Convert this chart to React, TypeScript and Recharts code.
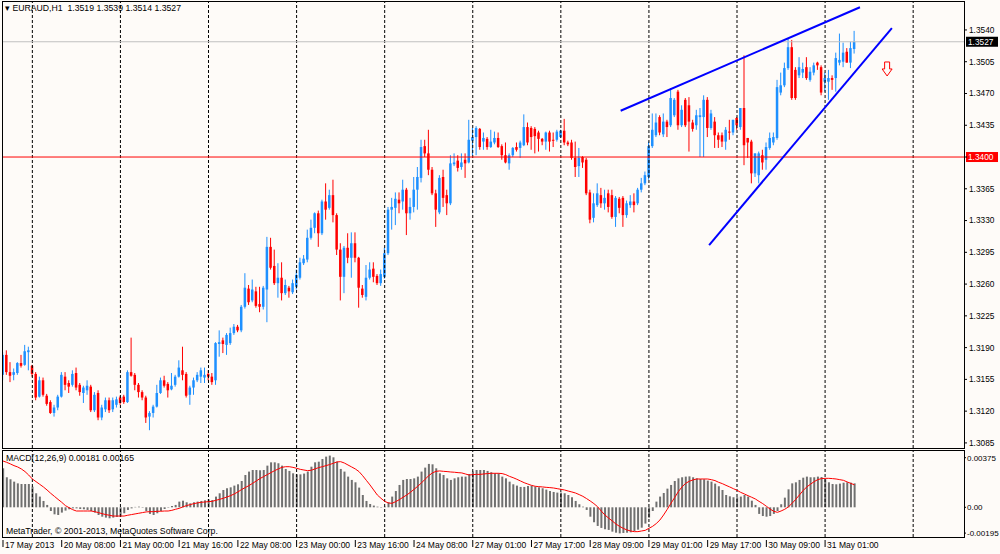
import {
  ComposedChart,
  Bar,
  Line,
  XAxis,
  YAxis,
  ReferenceLine,
  ReferenceDot,
} from "recharts";

// EURAUD H1, one entry per hourly bar (bar 0 = 17 May 2013)
const OPEN = [
  1.3160, 1.3182, 1.3163, 1.3160, 1.3162, 1.3173, 1.3171, 1.3185, 1.3170, 1.3161,
  1.3136, 1.3154, 1.3137, 1.3130, 1.3118, 1.3124, 1.3136, 1.3158, 1.3151, 1.3149,
  1.3162, 1.3149, 1.3140, 1.3143, 1.3147, 1.3121, 1.3140, 1.3113, 1.3122, 1.3132,
  1.3122, 1.3127, 1.3135, 1.3136, 1.3130, 1.3163, 1.3160, 1.3149, 1.3141, 1.3135,
  1.3114, 1.3118, 1.3125, 1.3140, 1.3154, 1.3150, 1.3144, 1.3149, 1.3158, 1.3165,
  1.3161, 1.3138, 1.3146, 1.3154, 1.3158, 1.3157, 1.3161, 1.3158, 1.3154, 1.3194,
  1.3198, 1.3193, 1.3195, 1.3206, 1.3213, 1.3209, 1.3235, 1.3255, 1.3242, 1.3252,
  1.3238, 1.3235, 1.3254, 1.3301, 1.3280, 1.3261, 1.3267, 1.3250, 1.3256, 1.3251,
  1.3257, 1.3267, 1.3283, 1.3287, 1.3311, 1.3322, 1.3338, 1.3316, 1.3351, 1.3344,
  1.3358, 1.3336, 1.3298, 1.3268, 1.3300, 1.3289, 1.3305, 1.3289, 1.3255, 1.3246,
  1.3267, 1.3277, 1.3269, 1.3261, 1.3268, 1.3294, 1.3342, 1.3344, 1.3353, 1.3351,
  1.3364, 1.3338, 1.3345, 1.3364, 1.3377, 1.3412, 1.3404, 1.3386, 1.3360, 1.3339,
  1.3378, 1.3358, 1.3349, 1.3392, 1.3396, 1.3389, 1.3397, 1.3394, 1.3418, 1.3422,
  1.3431, 1.3417, 1.3420, 1.3411, 1.3416, 1.3421, 1.3412, 1.3402, 1.3393, 1.3402,
  1.3411, 1.3410, 1.3413, 1.3433, 1.3432, 1.3431, 1.3427, 1.3420, 1.3417, 1.3427,
  1.3419, 1.3419, 1.3422, 1.3429, 1.3416, 1.3416, 1.3399, 1.3390, 1.3400, 1.3397,
  1.3361, 1.3333, 1.3347, 1.3358, 1.3349, 1.3360, 1.3358, 1.3334, 1.3354, 1.3355,
  1.3336, 1.3347, 1.3351, 1.3349, 1.3364, 1.3371, 1.3378, 1.3412, 1.3424, 1.3444,
  1.3425, 1.3439, 1.3435, 1.3446, 1.3472, 1.3435, 1.3463, 1.3457, 1.3438, 1.3435,
  1.3444, 1.3444, 1.3463, 1.3432, 1.3439, 1.3424, 1.3424, 1.3417, 1.3428, 1.3427,
  1.3443, 1.3433, 1.3454, 1.3421, 1.3417, 1.3382, 1.3380, 1.3402, 1.3397, 1.3410,
  1.3416, 1.3421, 1.3471, 1.3479, 1.3498, 1.3521, 1.3496, 1.3490, 1.3493, 1.3499,
  1.3485, 1.3493, 1.3504, 1.3499, 1.3483, 1.3483, 1.3487, 1.3487, 1.3504, 1.3505,
  1.3516, 1.3504, 1.3519,
];

const HIGH = [
  1.3185, 1.3187, 1.3174, 1.3167, 1.3174, 1.3182, 1.3193, 1.3191, 1.3171, 1.3163,
  1.3158, 1.3157, 1.3139, 1.3132, 1.3127, 1.3138, 1.3163, 1.3163, 1.3154, 1.3165,
  1.3168, 1.3151, 1.3148, 1.3154, 1.3149, 1.3141, 1.3143, 1.3127, 1.3135, 1.3135,
  1.3135, 1.3136, 1.3137, 1.3138, 1.3165, 1.3201, 1.3162, 1.3151, 1.3143, 1.3137,
  1.3120, 1.3127, 1.3149, 1.3157, 1.3159, 1.3152, 1.3162, 1.3160, 1.3176, 1.3191,
  1.3163, 1.3148, 1.3157, 1.3163, 1.3168, 1.3168, 1.3165, 1.3162, 1.3196, 1.3209,
  1.3201, 1.3206, 1.3212, 1.3216, 1.3215, 1.3237, 1.3272, 1.3259, 1.3265, 1.3257,
  1.3257, 1.3258, 1.3312, 1.3311, 1.3298, 1.3283, 1.3284, 1.3265, 1.3258, 1.3265,
  1.3276, 1.3289, 1.3292, 1.3320, 1.3331, 1.3339, 1.3341, 1.3353, 1.3371, 1.3364,
  1.3375, 1.3338, 1.3305, 1.3302, 1.3316, 1.3317, 1.3317, 1.3290, 1.3259, 1.3281,
  1.3284, 1.3284, 1.3271, 1.3276, 1.3300, 1.3345, 1.3355, 1.3361, 1.3361, 1.3375,
  1.3366, 1.3355, 1.3378, 1.3389, 1.3419, 1.3419, 1.3430, 1.3389, 1.3364, 1.3380,
  1.3386, 1.3364, 1.3402, 1.3404, 1.3402, 1.3404, 1.3404, 1.3441, 1.3432, 1.3434,
  1.3432, 1.3427, 1.3422, 1.3430, 1.3428, 1.3427, 1.3414, 1.3416, 1.3404, 1.3411,
  1.3416, 1.3418, 1.3447, 1.3438, 1.3434, 1.3433, 1.3429, 1.3421, 1.3428, 1.3429,
  1.3427, 1.3430, 1.3430, 1.3442, 1.3418, 1.3419, 1.3417, 1.3410, 1.3401, 1.3399,
  1.3364, 1.3360, 1.3371, 1.3366, 1.3364, 1.3364, 1.3364, 1.3357, 1.3356, 1.3357,
  1.3352, 1.3358, 1.3360, 1.3366, 1.3377, 1.3384, 1.3417, 1.3448, 1.3448, 1.3446,
  1.3448, 1.3441, 1.3476, 1.3465, 1.3474, 1.3457, 1.3465, 1.3466, 1.3441, 1.3452,
  1.3454, 1.3468, 1.3466, 1.3452, 1.3444, 1.3427, 1.3427, 1.3433, 1.3441, 1.3441,
  1.3444, 1.3454, 1.3512, 1.3421, 1.3419, 1.3404, 1.3406, 1.3408, 1.3416, 1.3427,
  1.3427, 1.3485, 1.3493, 1.3504, 1.3531, 1.3529, 1.3499, 1.3510, 1.3504, 1.3510,
  1.3499, 1.3504, 1.3505, 1.3501, 1.3493, 1.3496, 1.3490, 1.3515, 1.3536, 1.3526,
  1.3520, 1.3527, 1.3539,
];

const LOW = [
  1.3154, 1.3160, 1.3152, 1.3154, 1.3160, 1.3168, 1.3170, 1.3165, 1.3158, 1.3132,
  1.3135, 1.3136, 1.3126, 1.3117, 1.3114, 1.3121, 1.3135, 1.3143, 1.3140, 1.3147,
  1.3143, 1.3137, 1.3129, 1.3138, 1.3119, 1.3119, 1.3110, 1.3110, 1.3119, 1.3118,
  1.3119, 1.3124, 1.3127, 1.3128, 1.3129, 1.3158, 1.3143, 1.3135, 1.3132, 1.3107,
  1.3099, 1.3113, 1.3124, 1.3139, 1.3146, 1.3135, 1.3143, 1.3147, 1.3157, 1.3154,
  1.3135, 1.3127, 1.3138, 1.3152, 1.3151, 1.3151, 1.3154, 1.3149, 1.3149, 1.3180,
  1.3184, 1.3182, 1.3193, 1.3204, 1.3207, 1.3207, 1.3233, 1.3237, 1.3240, 1.3234,
  1.3229, 1.3232, 1.3218, 1.3276, 1.3259, 1.3245, 1.3242, 1.3248, 1.3245, 1.3249,
  1.3254, 1.3265, 1.3281, 1.3284, 1.3309, 1.3316, 1.3301, 1.3314, 1.3331, 1.3342,
  1.3328, 1.3292, 1.3242, 1.3250, 1.3283, 1.3267, 1.3284, 1.3234, 1.3245, 1.3242,
  1.3265, 1.3262, 1.3259, 1.3258, 1.3266, 1.3292, 1.3320, 1.3325, 1.3338, 1.3342,
  1.3314, 1.3331, 1.3339, 1.3342, 1.3372, 1.3400, 1.3380, 1.3358, 1.3323, 1.3337,
  1.3345, 1.3336, 1.3347, 1.3390, 1.3384, 1.3386, 1.3377, 1.3393, 1.3402, 1.3402,
  1.3408, 1.3408, 1.3408, 1.3410, 1.3414, 1.3410, 1.3397, 1.3393, 1.3386, 1.3400,
  1.3406, 1.3399, 1.3412, 1.3413, 1.3408, 1.3404, 1.3406, 1.3413, 1.3408, 1.3406,
  1.3411, 1.3417, 1.3421, 1.3413, 1.3412, 1.3397, 1.3378, 1.3378, 1.3388, 1.3358,
  1.3327, 1.3328, 1.3345, 1.3344, 1.3342, 1.3339, 1.3332, 1.3323, 1.3338, 1.3323,
  1.3333, 1.3344, 1.3339, 1.3347, 1.3361, 1.3369, 1.3375, 1.3410, 1.3422, 1.3424,
  1.3422, 1.3422, 1.3433, 1.3444, 1.3430, 1.3433, 1.3433, 1.3406, 1.3428, 1.3430,
  1.3400, 1.3400, 1.3422, 1.3430, 1.3410, 1.3410, 1.3411, 1.3408, 1.3419, 1.3424,
  1.3430, 1.3430, 1.3391, 1.3399, 1.3371, 1.3378, 1.3371, 1.3386, 1.3386, 1.3408,
  1.3413, 1.3419, 1.3468, 1.3477, 1.3496, 1.3463, 1.3463, 1.3487, 1.3487, 1.3485,
  1.3483, 1.3490, 1.3496, 1.3468, 1.3472, 1.3463, 1.3474, 1.3472, 1.3501, 1.3499,
  1.3504, 1.3498, 1.3514,
];

const CLOSE = [
  1.3182, 1.3163, 1.3159, 1.3163, 1.3173, 1.3170, 1.3186, 1.3187, 1.3161, 1.3135,
  1.3154, 1.3138, 1.3128, 1.3118, 1.3124, 1.3136, 1.3160, 1.3149, 1.3147, 1.3161,
  1.3146, 1.3141, 1.3146, 1.3148, 1.3121, 1.3138, 1.3113, 1.3124, 1.3132, 1.3121,
  1.3132, 1.3133, 1.3129, 1.3130, 1.3163, 1.3159, 1.3149, 1.3141, 1.3135, 1.3113,
  1.3118, 1.3125, 1.3140, 1.3154, 1.3148, 1.3143, 1.3148, 1.3158, 1.3168, 1.3160,
  1.3137, 1.3146, 1.3154, 1.3160, 1.3165, 1.3160, 1.3158, 1.3152, 1.3195, 1.3196,
  1.3194, 1.3204, 1.3206, 1.3213, 1.3209, 1.3235, 1.3256, 1.3240, 1.3254, 1.3236,
  1.3235, 1.3256, 1.3301, 1.3278, 1.3261, 1.3267, 1.3250, 1.3259, 1.3252, 1.3261,
  1.3270, 1.3284, 1.3288, 1.3311, 1.3322, 1.3338, 1.3316, 1.3351, 1.3342, 1.3358,
  1.3336, 1.3298, 1.3268, 1.3300, 1.3289, 1.3305, 1.3289, 1.3256, 1.3248, 1.3267,
  1.3276, 1.3268, 1.3261, 1.3271, 1.3294, 1.3342, 1.3345, 1.3354, 1.3349, 1.3364,
  1.3338, 1.3345, 1.3364, 1.3378, 1.3411, 1.3404, 1.3386, 1.3360, 1.3342, 1.3377,
  1.3355, 1.3349, 1.3393, 1.3394, 1.3388, 1.3394, 1.3393, 1.3419, 1.3422, 1.3432,
  1.3411, 1.3421, 1.3411, 1.3417, 1.3421, 1.3411, 1.3402, 1.3394, 1.3402, 1.3410,
  1.3408, 1.3416, 1.3433, 1.3416, 1.3422, 1.3423, 1.3420, 1.3417, 1.3427, 1.3417,
  1.3418, 1.3428, 1.3429, 1.3416, 1.3414, 1.3399, 1.3389, 1.3399, 1.3394, 1.3360,
  1.3331, 1.3349, 1.3360, 1.3349, 1.3355, 1.3345, 1.3334, 1.3355, 1.3344, 1.3336,
  1.3349, 1.3351, 1.3347, 1.3364, 1.3371, 1.3380, 1.3412, 1.3430, 1.3438, 1.3427,
  1.3439, 1.3433, 1.3465, 1.3463, 1.3435, 1.3452, 1.3435, 1.3439, 1.3431, 1.3446,
  1.3446, 1.3463, 1.3432, 1.3448, 1.3424, 1.3419, 1.3417, 1.3430, 1.3427, 1.3441,
  1.3435, 1.3454, 1.3413, 1.3416, 1.3382, 1.3404, 1.3404, 1.3394, 1.3411, 1.3421,
  1.3422, 1.3477, 1.3479, 1.3498, 1.3521, 1.3465, 1.3465, 1.3499, 1.3497, 1.3487,
  1.3494, 1.3501, 1.3501, 1.3471, 1.3487, 1.3487, 1.3485, 1.3509, 1.3507, 1.3515,
  1.3504, 1.3520, 1.3527,
];

// MACD(12,26,9): histogram (main) and signal line
const MACD_MAIN = [
  0.00295, 0.00227, 0.00212, 0.00194, 0.00181, 0.00176, 0.00176, 0.00176, 0.00156, 0.00106,
  0.00081, 0.00048, 0.00018, -0.00028, -0.00053, -0.00058, -0.00040, -0.00025, -0.00015, -0.00008,
  -0.00008, -0.00013, -0.00015, -0.00020, -0.00028, -0.00040, -0.00058, -0.00071, -0.00078, -0.00083,
  -0.00078, -0.00073, -0.00071, -0.00045, -0.00020, -0.00008, 0.00003, 0.00005, -0.00003, -0.00028,
  -0.00050, -0.00058, -0.00045, -0.00028, -0.00013, -0.00003, 0.00010, 0.00018, 0.00043, 0.00050,
  0.00038, 0.00030, 0.00038, 0.00043, 0.00048, 0.00053, 0.00060, 0.00055, 0.00081, 0.00106,
  0.00131, 0.00144, 0.00151, 0.00164, 0.00174, 0.00199, 0.00244, 0.00270, 0.00282, 0.00282,
  0.00280, 0.00282, 0.00315, 0.00340, 0.00340, 0.00333, 0.00315, 0.00290, 0.00275, 0.00257,
  0.00249, 0.00249, 0.00255, 0.00270, 0.00307, 0.00340, 0.00345, 0.00365, 0.00383, 0.00391,
  0.00378, 0.00345, 0.00290, 0.00270, 0.00232, 0.00207, 0.00189, 0.00149, 0.00093, 0.00048,
  0.00025, 0.00013, 0.00005, -0.00003, 0.00005, 0.00038, 0.00081, 0.00123, 0.00169, 0.00207,
  0.00214, 0.00214, 0.00219, 0.00232, 0.00270, 0.00300, 0.00328, 0.00325, 0.00295, 0.00257,
  0.00244, 0.00219, 0.00207, 0.00219, 0.00227, 0.00232, 0.00232, 0.00252, 0.00270, 0.00282,
  0.00282, 0.00282, 0.00275, 0.00265, 0.00257, 0.00257, 0.00232, 0.00219, 0.00194, 0.00174,
  0.00164, 0.00154, 0.00154, 0.00161, 0.00164, 0.00156, 0.00151, 0.00144, 0.00134, 0.00123,
  0.00116, 0.00111, 0.00111, 0.00106, 0.00093, 0.00076, 0.00048, 0.00023, 0.00005, -0.00020,
  -0.00071, -0.00113, -0.00141, -0.00156, -0.00166, -0.00171, -0.00184, -0.00192, -0.00197, -0.00194,
  -0.00192, -0.00189, -0.00179, -0.00169, -0.00154, -0.00123, -0.00078, -0.00028, 0.00043, 0.00081,
  0.00108, 0.00141, 0.00169, 0.00199, 0.00219, 0.00227, 0.00232, 0.00234, 0.00227, 0.00219,
  0.00214, 0.00212, 0.00202, 0.00194, 0.00179, 0.00159, 0.00131, 0.00093, 0.00083, 0.00076,
  0.00076, 0.00081, 0.00093, 0.00081, 0.00050, 0.00018, -0.00050, -0.00066, -0.00071, -0.00066,
  -0.00050, -0.00028, 0.00023, 0.00073, 0.00136, 0.00181, 0.00189, 0.00207, 0.00224, 0.00232,
  0.00227, 0.00227, 0.00232, 0.00229, 0.00212, 0.00189, 0.00176, 0.00174, 0.00179, 0.00186,
  0.00189, 0.00186, 0.00181,
];

const MACD_SIGNAL = [
  0.00350, 0.00340, 0.00328, 0.00315, 0.00305, 0.00290, 0.00270, 0.00244, 0.00214, 0.00194,
  0.00174, 0.00154, 0.00131, 0.00106, 0.00083, 0.00060, 0.00038, 0.00013, -0.00003, -0.00018,
  -0.00028, -0.00028, -0.00028, -0.00028, -0.00028, -0.00033, -0.00040, -0.00048, -0.00055, -0.00060,
  -0.00066, -0.00066, -0.00066, -0.00066, -0.00060, -0.00055, -0.00050, -0.00045, -0.00040, -0.00035,
  -0.00033, -0.00033, -0.00030, -0.00030, -0.00028, -0.00028, -0.00023, -0.00015, -0.00008, 0.00003,
  0.00013, 0.00020, 0.00028, 0.00033, 0.00038, 0.00040, 0.00043, 0.00045, 0.00053, 0.00060,
  0.00068, 0.00078, 0.00088, 0.00101, 0.00116, 0.00134, 0.00149, 0.00164, 0.00181, 0.00199,
  0.00217, 0.00232, 0.00247, 0.00262, 0.00277, 0.00290, 0.00302, 0.00307, 0.00307, 0.00302,
  0.00295, 0.00287, 0.00282, 0.00277, 0.00280, 0.00290, 0.00300, 0.00307, 0.00315, 0.00323,
  0.00333, 0.00343, 0.00345, 0.00335, 0.00320, 0.00305, 0.00290, 0.00270, 0.00239, 0.00204,
  0.00169, 0.00131, 0.00093, 0.00068, 0.00045, 0.00033, 0.00030, 0.00043, 0.00058, 0.00076,
  0.00093, 0.00113, 0.00136, 0.00159, 0.00184, 0.00212, 0.00239, 0.00260, 0.00272, 0.00275,
  0.00272, 0.00270, 0.00267, 0.00265, 0.00262, 0.00260, 0.00252, 0.00244, 0.00247, 0.00249,
  0.00249, 0.00252, 0.00255, 0.00257, 0.00257, 0.00257, 0.00255, 0.00247, 0.00234, 0.00224,
  0.00212, 0.00199, 0.00186, 0.00176, 0.00166, 0.00159, 0.00156, 0.00154, 0.00151, 0.00149,
  0.00146, 0.00141, 0.00136, 0.00131, 0.00123, 0.00116, 0.00108, 0.00096, 0.00083, 0.00066,
  0.00048, 0.00028, 0.00005, -0.00028, -0.00058, -0.00081, -0.00103, -0.00126, -0.00144, -0.00159,
  -0.00171, -0.00179, -0.00184, -0.00184, -0.00179, -0.00174, -0.00159, -0.00144, -0.00123, -0.00096,
  -0.00058, -0.00015, 0.00030, 0.00073, 0.00118, 0.00154, 0.00181, 0.00197, 0.00207, 0.00214,
  0.00214, 0.00214, 0.00214, 0.00209, 0.00202, 0.00189, 0.00179, 0.00166, 0.00154, 0.00141,
  0.00129, 0.00113, 0.00101, 0.00088, 0.00076, 0.00063, 0.00045, 0.00028, 0.00008, -0.00013,
  -0.00030, -0.00038, -0.00028, -0.00015, 0.00003, 0.00030, 0.00060, 0.00093, 0.00126, 0.00154,
  0.00174, 0.00194, 0.00209, 0.00217, 0.00219, 0.00219, 0.00217, 0.00214, 0.00209, 0.00204,
  0.00192, 0.00181, 0.00170,
];

const PRICE_TICKS = [
  1.3085, 1.312, 1.3155, 1.319, 1.3225, 1.326, 1.3295, 1.333, 1.3365, 1.34, 1.3435,
  1.347, 1.3505, 1.354,
];
const MACD_TICKS = [-0.00195, 0, 0.00375];

const TIME_LABEL_BARS = [0, 16, 32, 48, 64, 80, 96, 112, 128, 144, 160, 176, 192, 208, 224];
const TIME_LABELS = [
  "17 May 2013", "20 May 08:00", "21 May 00:00", "21 May 16:00", "22 May 08:00",
  "23 May 00:00", "23 May 16:00", "24 May 08:00", "27 May 01:00", "27 May 17:00",
  "28 May 09:00", "29 May 01:00", "29 May 17:00", "30 May 09:00", "31 May 01:00",
];
const GRID_BARS = [8, 32, 56, 80, 104, 128, 152, 176, 200, 224, 248];

const BID = 1.3527;
const LEVEL = 1.34;

// hand-drawn objects (bar index, price)
const UPPER_TREND = [
  { x: 168.3, y: 1.3451 },
  { x: 233.5, y: 1.3565 },
];
const LOWER_TREND = [
  { x: 192.4, y: 1.3303 },
  { x: 242.2, y: 1.3542 },
];
const SELL_ARROW = { x: 240.9, y: 1.3497 };

const X_DOMAIN = [-0.27, 261.85];
const PRICE_DOMAIN = [1.30794, 1.35719];
const MACD_DOMAIN = [-0.002245, 0.004332];

const BULL = "#1E90FF";
const BEAR = "#FF0000";
const FONT = '"Liberation Sans", Arial, sans-serif';
const BG = "#FEFBF8";
const AXIS_FONT = 8.3;

const candles = OPEN.map((o, i) => ({
  i,
  open: o,
  high: HIGH[i],
  low: LOW[i],
  close: CLOSE[i],
  range: [LOW[i], HIGH[i]],
}));

const macdRows = MACD_MAIN.map((m, i) => ({ i, main: m, signal: MACD_SIGNAL[i] }));

function Candle(props: any) {
  const { x, y, width, height, payload } = props;
  if (payload == null || x == null) return null;
  const { open, high, low, close } = payload;
  const top = Math.min(y, y + height);
  const h = Math.abs(height);
  const cx = x + width / 2;
  const k = high > low ? h / (high - low) : 0;
  const py = (p: number) => top + (high - p) * k;
  const color = close >= open ? BULL : BEAR;
  const bTop = py(Math.max(open, close));
  const bBot = py(Math.min(open, close));
  return (
    <g>
      <line x1={cx} x2={cx} y1={top} y2={top + h} stroke={color} strokeWidth={1} />
      <rect x={cx - 1.25} y={bTop} width={2.5} height={Math.max(1, bBot - bTop)} fill={color} />
    </g>
  );
}

function PriceTag(props: any) {
  const { viewBox, text, bg } = props;
  if (!viewBox) return null;
  const x = viewBox.x + viewBox.width + 2;
  const y = viewBox.y;
  return (
    <g>
      <rect x={x} y={y - 5} width={32} height={10} fill={bg} />
      <text x={x + 2} y={y + 3.3} fill="#fff" fontSize={AXIS_FONT} fontFamily={FONT}>
        {text}
      </text>
    </g>
  );
}

function DownArrow(props: any) {
  const { cx, cy } = props;
  if (cx == null) return null;
  const d = `M${cx - 2.5},${cy - 7} L${cx + 2.5},${cy - 7} L${cx + 2.5},${cy} L${cx + 5},${cy} L${cx},${cy + 7} L${cx - 5},${cy} L${cx - 2.5},${cy} Z`;
  return <path d={d} fill="none" stroke="#FF0000" strokeWidth={1} />;
}

function TimeTick(props: any) {
  const { x, y, payload } = props;
  const idx = TIME_LABEL_BARS.indexOf(payload.value);
  if (idx < 0) return null;
  return (
    <g>
      <line x1={x} x2={x} y1={y + 3} y2={y + 10} stroke="#000" strokeWidth={1} />
      <text x={x + 2} y={y + 11} fontSize={8.5} fontFamily={FONT} fill="#000">
        {TIME_LABELS[idx]}
      </text>
    </g>
  );
}

const textStyle = {
  position: "absolute" as const,
  fontFamily: FONT,
  fontSize: 8.7,
  lineHeight: "10px",
  color: "#000",
  whiteSpace: "pre" as const,
};

export default function App() {
  return (
    <div
      style={{
        position: "absolute",
        left: 0,
        top: 0,
        width: 1000,
        height: 554,
        background: BG,
        overflow: "hidden",
      }}
    >
      <div style={{ position: "absolute", left: 0, top: 0 }}>
        <ComposedChart
          width={1000}
          height={449}
          data={candles}
          margin={{ top: 1, right: 0, bottom: 1, left: 2 }}
        >
          <XAxis dataKey="i" type="number" domain={X_DOMAIN} allowDataOverflow hide />
          <YAxis
            orientation="right"
            width={36}
            domain={PRICE_DOMAIN}
            allowDataOverflow
            ticks={PRICE_TICKS}
            interval={0}
            tickFormatter={(v: number) => (v === LEVEL ? "" : v.toFixed(4))}
            tick={{ fontSize: AXIS_FONT, fill: "#000", fontFamily: FONT }}
            tickSize={3}
            tickMargin={2}
            tickLine={{ stroke: "#000" }}
            axisLine={false}
          />
          {GRID_BARS.map((g) => (
            <ReferenceLine key={g} x={g} stroke="#000" strokeDasharray="3 2" />
          ))}
          <ReferenceLine y={BID} stroke="#C0C0C0" label={<PriceTag text="1.3527" bg="#000" />} />
          <ReferenceLine y={LEVEL} stroke="#FF0000" label={<PriceTag text="1.3400" bg="#FF0000" />} />
          <Bar dataKey="range" barSize={3} shape={Candle} isAnimationActive={false} />
          <ReferenceLine segment={UPPER_TREND} stroke="#0000FF" strokeWidth={2} ifOverflow="visible" />
          <ReferenceLine segment={LOWER_TREND} stroke="#0000FF" strokeWidth={2} ifOverflow="visible" />
          <ReferenceDot
            x={SELL_ARROW.x}
            y={SELL_ARROW.y}
            r={6}
            shape={(p: any) => <DownArrow cx={p.cx} cy={p.cy} />}
          />
        </ComposedChart>
      </div>

      <div style={{ position: "absolute", left: 0, top: 450 }}>
        <ComposedChart
          width={1000}
          height={104}
          data={macdRows}
          margin={{ top: 0, right: 0, bottom: 0, left: 2 }}
        >
          <XAxis
            dataKey="i"
            type="number"
            domain={X_DOMAIN}
            allowDataOverflow
            ticks={TIME_LABEL_BARS}
            interval={0}
            height={17}
            axisLine={false}
            tickLine={false}
            tickSize={0}
            tickMargin={0}
            tick={<TimeTick />}
          />
          <YAxis
            orientation="right"
            width={36}
            domain={MACD_DOMAIN}
            allowDataOverflow
            ticks={MACD_TICKS}
            interval={0}
            tickFormatter={(v: number) => (v === 0 ? "0.00" : v.toFixed(5))}
            tick={{ fontSize: 8, fill: "#000", fontFamily: FONT }}
            tickSize={2}
            tickMargin={1}
            tickLine={{ stroke: "#000" }}
            axisLine={false}
          />
          {GRID_BARS.map((g) => (
            <ReferenceLine key={g} x={g} stroke="#000" strokeDasharray="3 2" />
          ))}
          <Bar dataKey="main" barSize={2} fill="#707070" isAnimationActive={false} />
          <Line
            dataKey="signal"
            type="linear"
            stroke="#FF0000"
            strokeWidth={1}
            dot={false}
            isAnimationActive={false}
          />
        </ComposedChart>
      </div>

      {/* panel frames */}
      <div
        style={{
          position: "absolute",
          left: 2,
          top: 1,
          width: 963,
          height: 448,
          border: "1px solid #000",
          boxSizing: "border-box",
          pointerEvents: "none",
        }}
      />
      <div
        style={{
          position: "absolute",
          left: 2,
          top: 450,
          width: 963,
          height: 88,
          border: "1px solid #000",
          boxSizing: "border-box",
          pointerEvents: "none",
        }}
      />

      <div style={{ ...textStyle, left: 5, top: 3 }}>
        {"\u25BE EURAUD,H1  1.3519 1.3539 1.3514 1.3527"}
      </div>
      <div style={{ ...textStyle, left: 6, top: 453 }}>MACD(12,26,9) 0.00181 0.00165</div>
      <div style={{ ...textStyle, left: 6, top: 526 }}>
        MetaTrader, © 2001-2013, MetaQuotes Software Corp.
      </div>
    </div>
  );
}
